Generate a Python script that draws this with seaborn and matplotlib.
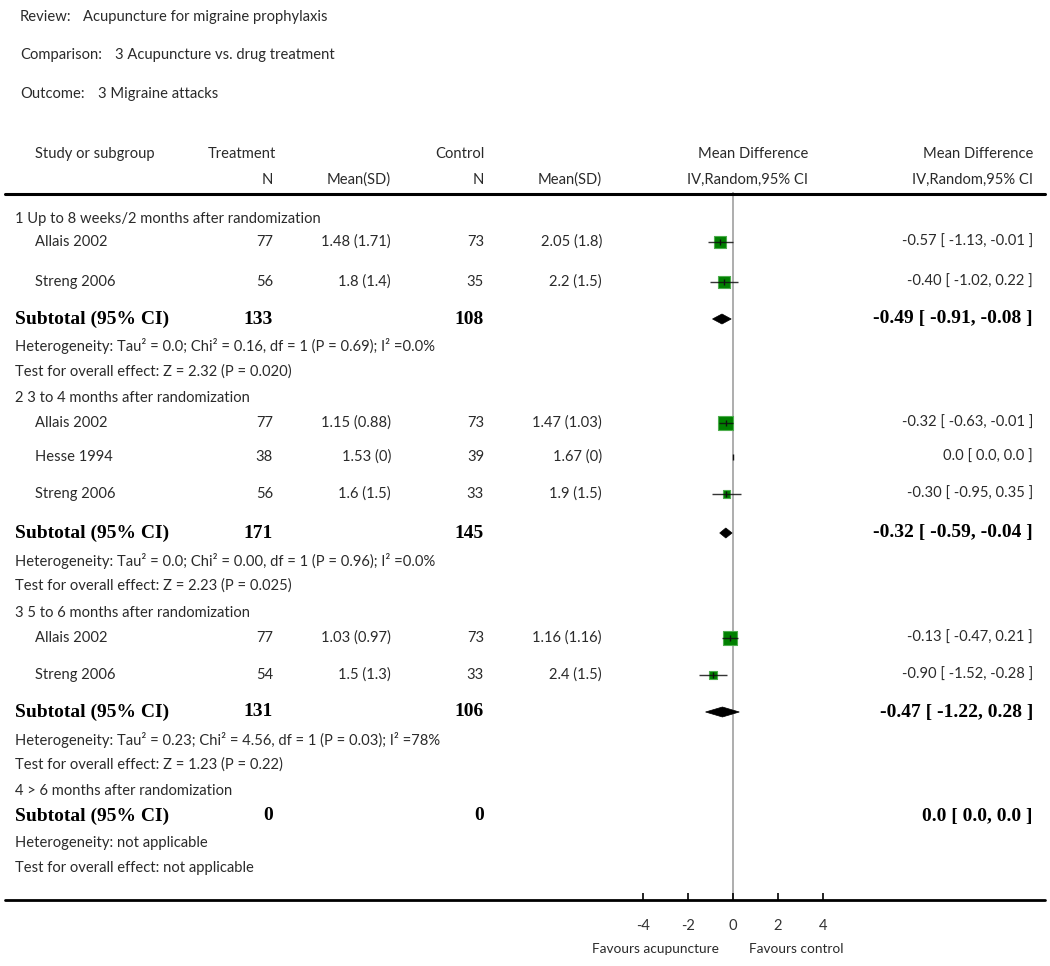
import numpy as np
import pandas as pd
import matplotlib
matplotlib.use("Agg")
import matplotlib.pyplot as plt
from matplotlib.lines import Line2D
from matplotlib.patches import Polygon
import seaborn as sns

# ---------------- data ----------------
review = "Acupuncture for migraine prophylaxis"
comparison = "3 Acupuncture vs. drug treatment"
outcome = "3 Migraine attacks"

groups = ["1 Up to 8 weeks/2 months after randomization",
          "2 3 to 4 months after randomization",
          "3 5 to 6 months after randomization",
          "4 > 6 months after randomization"]

study_group = [0, 0, 1, 1, 1, 2, 2]
study_names = ["Allais 2002", "Streng 2006", "Allais 2002", "Hesse 1994",
               "Streng 2006", "Allais 2002", "Streng 2006"]
trt_n = [77, 56, 77, 38, 56, 77, 54]
trt_msd = ["1.48 (1.71)", "1.8 (1.4)", "1.15 (0.88)", "1.53 (0)", "1.6 (1.5)",
           "1.03 (0.97)", "1.5 (1.3)"]
ctl_n = [73, 35, 73, 39, 33, 73, 33]
ctl_msd = ["2.05 (1.8)", "2.2 (1.5)", "1.47 (1.03)", "1.67 (0)", "1.9 (1.5)",
           "1.16 (1.16)", "2.4 (1.5)"]
md = [-0.57, -0.40, -0.32, 0.0, -0.30, -0.13, -0.90]
lo = [-1.13, -1.02, -0.63, 0.0, -0.95, -0.47, -1.52]
hi = [-0.01, 0.22, -0.01, 0.0, 0.35, 0.21, -0.28]
weight = [55, 45, 81, 0, 19, 76, 24]
md_text = ["-0.57 [ -1.13, -0.01 ]", "-0.40 [ -1.02, 0.22 ]", "-0.32 [ -0.63, -0.01 ]",
           "0.0 [ 0.0, 0.0 ]", "-0.30 [ -0.95, 0.35 ]", "-0.13 [ -0.47, 0.21 ]",
           "-0.90 [ -1.52, -0.28 ]"]

sub_trt_n = [133, 171, 131, 0]
sub_ctl_n = [108, 145, 106, 0]
sub_md = [-0.49, -0.32, -0.47, 0.0]
sub_lo = [-0.91, -0.59, -1.22, 0.0]
sub_hi = [-0.08, -0.04, 0.28, 0.0]
sub_text = ["-0.49 [ -0.91, -0.08 ]", "-0.32 [ -0.59, -0.04 ]",
            "-0.47 [ -1.22, 0.28 ]", "0.0 [ 0.0, 0.0 ]"]
het_text = ["Heterogeneity: Tau\u00b2 = 0.0; Chi\u00b2 = 0.16, df = 1 (P = 0.69); I\u00b2 =0.0%",
            "Heterogeneity: Tau\u00b2 = 0.0; Chi\u00b2 = 0.00, df = 1 (P = 0.96); I\u00b2 =0.0%",
            "Heterogeneity: Tau\u00b2 = 0.23; Chi\u00b2 = 4.56, df = 1 (P = 0.03); I\u00b2 =78%",
            "Heterogeneity: not applicable"]
test_text = ["Test for overall effect: Z = 2.32 (P = 0.020)",
             "Test for overall effect: Z = 2.23 (P = 0.025)",
             "Test for overall effect: Z = 1.23 (P = 0.22)",
             "Test for overall effect: not applicable"]

xticks = [-4, -2, 0, 2, 4]
fav_left = "Favours acupuncture"
fav_right = "Favours control"

# ---------------- layout (pixels) ----------------
W, H = 1050, 966
study_y = [242, 282, 423, 457, 494, 638, 675]
group_y = [219, 398, 613, 791]
sub_y = [319, 533, 712, 816]
het_y = [346, 561, 740, 843]
test_y = [372, 586, 765, 868]

sns.set_theme(style="white")
SANS = ["Lato", "DejaVu Sans"]
SERIF = ["Liberation Serif", "DejaVu Serif"]
plt.rcParams["font.family"] = SANS

fig = plt.figure(figsize=(W / 100, H / 100), dpi=100)
fig.patch.set_facecolor("white")

TXT = "#2a2a2a"
FS = 10.6
BFS = 14


def ftext(x, y, s, ha="left", bold=False, fs=None, color=TXT):
    kw = dict(ha=ha, va="center", transform=fig.transFigure)
    if bold:
        fig.text(x / W, 1 - y / H, s, fontsize=fs or BFS, fontweight="bold",
                 family=SERIF, color="black", **kw)
    else:
        fig.text(x / W, 1 - y / H, s, fontsize=fs or FS, family=SANS, color=color, **kw)


# title block
ftext(20, 17, "Review:")
ftext(83, 17, review)
ftext(20, 55, "Comparison:")
ftext(115, 55, comparison)
ftext(20, 94, "Outcome:")
ftext(98, 94, outcome)

# header
ftext(35, 154, "Study or subgroup")
ftext(208, 154, "Treatment")
ftext(484, 154, "Control", ha="right")
ftext(808, 154, "Mean Difference", ha="right")
ftext(1033, 154, "Mean Difference", ha="right")
ftext(273, 180, "N", ha="right")
ftext(391, 180, "Mean(SD)", ha="right")
ftext(484, 180, "N", ha="right")
ftext(602, 180, "Mean(SD)", ha="right")
ftext(808, 180, "IV,Random,95% CI", ha="right")
ftext(1033, 180, "IV,Random,95% CI", ha="right")

fig.add_artist(Line2D([5 / W, 1045 / W], [1 - 193.5 / H] * 2, color="black",
                      lw=2.2, transform=fig.transFigure))
fig.add_artist(Line2D([5 / W, 1045 / W], [1 - 900 / H] * 2, color="black",
                      lw=2.0, transform=fig.transFigure))

# study rows text
for i in range(len(study_names)):
    y = study_y[i]
    ftext(35, y, study_names[i])
    ftext(273, y, str(trt_n[i]), ha="right")
    ftext(391, y, trt_msd[i], ha="right")
    ftext(484, y, str(ctl_n[i]), ha="right")
    ftext(602, y, ctl_msd[i], ha="right")
    ftext(1033, y, md_text[i], ha="right")

for g in range(len(groups)):
    ftext(15, group_y[g], groups[g])
    ftext(15, sub_y[g], "Subtotal (95% CI)", bold=True)
    ftext(273, sub_y[g], str(sub_trt_n[g]), ha="right", bold=True)
    ftext(484, sub_y[g], str(sub_ctl_n[g]), ha="right", bold=True)
    ftext(1033, sub_y[g], sub_text[g], ha="right", bold=True)
    ftext(15, het_y[g], het_text[g])
    ftext(15, test_y[g], test_text[g])

# ---------------- forest axes ----------------
PX_PER_UNIT = 22.5
X0 = 733
xmin, xmax = -8, 8
left_px = X0 + xmin * PX_PER_UNIT
right_px = X0 + xmax * PX_PER_UNIT
top_px, bot_px = 192, 900
ax = fig.add_axes([left_px / W, 1 - bot_px / H, (right_px - left_px) / W,
                   (bot_px - top_px) / H])
ax.set_xlim(xmin, xmax)
ax.set_ylim(bot_px, top_px)
ax.patch.set_alpha(0)
for s in ["top", "left", "right", "bottom"]:
    ax.spines[s].set_visible(False)
ax.set_yticks([])
ax.set_xticks(xticks)
ax.set_xticklabels([str(t) for t in xticks], fontsize=FS, color="#333333", family=SANS)
ax.tick_params(axis="x", direction="in", length=5, width=1.2, color="black",
               pad=14, bottom=True)

# zero line
ax.axvline(0, color="#a0a0a0", lw=1.2, zorder=0)

df = pd.DataFrame({"md": md, "lo": lo, "hi": hi, "y": study_y, "w": weight})

sns.scatterplot(data=df[df["w"] > 0], x="md", y="y", size="w", sizes=(0, 140),
                size_norm=(0, 100), marker="s", color="#008000",
                edgecolor="#4fae4f", linewidth=0.8, legend=False, ax=ax, zorder=3)
ax.scatter(df["md"], df["y"], marker="|", s=14, color="#111111", linewidths=1.0,
           zorder=4)
ax.hlines(df["y"], df["lo"], df["hi"], color="#111111", lw=1.0, zorder=5, alpha=0.85)

for g in range(3):
    yc = sub_y[g]
    hh = 5
    poly = Polygon([[sub_lo[g], yc], [sub_md[g], yc - hh], [sub_hi[g], yc],
                    [sub_md[g], yc + hh]], closed=True, facecolor="black",
                   edgecolor="black", lw=0.5, zorder=4)
    ax.add_patch(poly)

ax.set_xlabel("")
ax.set_ylabel("")

ftext(655, 949, fav_left, ha="center", fs=9.8)
ftext(796, 949, fav_right, ha="center", fs=9.8)

fig.savefig("out.png", dpi=100, facecolor="white")
